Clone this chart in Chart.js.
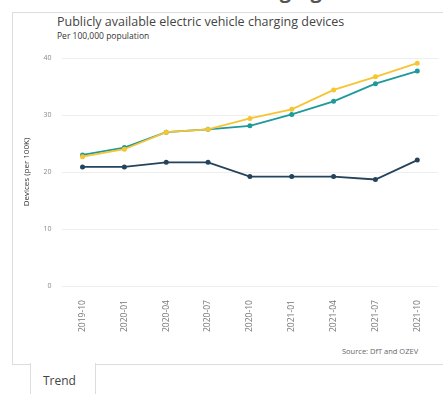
<!DOCTYPE html>
<html>
<head>
<meta charset="utf-8">
<script src="https://cdn.jsdelivr.net/npm/chart.js@4/dist/chart.umd.min.js"></script>
<style>
  body { margin: 0; width: 443px; height: 394px; overflow: hidden; background: #fff; font-family: "Open Sans", sans-serif; position: relative; }
  #heading { position: absolute; left: 14px; top: -23px; font-size: 20px; font-weight: 700; color: #555; white-space: nowrap; }
  #card { position: absolute; left: 12px; top: 12px; width: 440px; height: 351px; border-top: 1px solid #ddd; border-left: 1px solid #ddd; border-bottom: 1px solid #ddd; }
  #title { position: absolute; left: 57px; top: 13px; font-size: 12.5px; color: #444; white-space: nowrap; }
  #sub { position: absolute; left: 57px; top: 30px; font-size: 8.5px; color: #333; white-space: nowrap; }
  #src { position: absolute; left: 342px; top: 346px; font-size: 7.5px; color: #666; white-space: nowrap; }
  #wrap { position: absolute; left: 14px; top: 40px; width: 429px; height: 300px; }
  #tab { position: absolute; left: 30px; top: 363px; width: 64px; height: 40px; border-left: 1px solid #ddd; border-right: 1px solid #ddd; background: #fff; }
  #tab span { position: absolute; left: 12px; top: 9px; font-size: 12px; color: #444; }
</style>
</head>
<body>
<div id="heading">Public electric vehicle charging</div>
<div id="card"></div>
<div id="title">Publicly available electric vehicle charging devices</div>
<div id="sub">Per 100,000 population</div>
<div id="wrap"><canvas id="myChart"></canvas></div>
<div id="src">Source: DfT and OZEV</div>
<div id="tab"><span>Trend</span></div>
<script>
const quarters = ['2019-10', '2020-01', '2020-04', '2020-07', '2020-10', '2021-01', '2021-04', '2021-07', '2021-10'];
const yellowSeries = [22.7, 24.0, 27.0, 27.5, 29.4, 31.0, 34.4, 36.7, 39.1];
const tealSeries = [23.0, 24.3, 27.0, 27.5, 28.1, 30.1, 32.4, 35.5, 37.7];
const navySeries = [20.9, 20.9, 21.7, 21.7, 19.2, 19.2, 19.2, 18.7, 22.1];

const ctx = document.getElementById('myChart');

const line = (data, color) => ({
  data: data,
  borderColor: color,
  backgroundColor: color,
  borderWidth: 1.8,
  pointRadius: 1.6,
  pointHoverRadius: 3,
  tension: 0,
  fill: false
});

new Chart(ctx, {
  type: 'line',
  data: {
    labels: quarters,
    datasets: [
      line(yellowSeries, '#f7c531'),
      line(tealSeries, '#1f9a9a'),
      line(navySeries, '#24435c')
    ]
  },
  options: {
    responsive: true,
    maintainAspectRatio: false,
    animation: false,
    layout: { padding: { top: 18, right: 0, bottom: 2, left: 6 } },
    plugins: { legend: { display: false }, tooltip: { enabled: false } },
    scales: {
      x: {
        offset: true,
        grid: { display: false },
        border: { display: false },
        ticks: {
          minRotation: 90,
          maxRotation: 90,
          color: '#777',
          font: { family: 'Open Sans', size: 8.5 },
          padding: 6
        }
      },
      y: {
        min: 0,
        max: 40,
        grid: { color: '#eeeeee', drawTicks: false },
        border: { display: false },
        ticks: {
          stepSize: 10,
          color: '#888',
          font: { family: 'Open Sans', size: 7 },
          padding: 10
        },
        title: {
          display: true,
          text: 'Devices (per 100K)',
          color: '#333',
          font: { family: 'Open Sans', size: 8 },
          padding: 2
        }
      }
    }
  }
});
</script>
</body>
</html>
